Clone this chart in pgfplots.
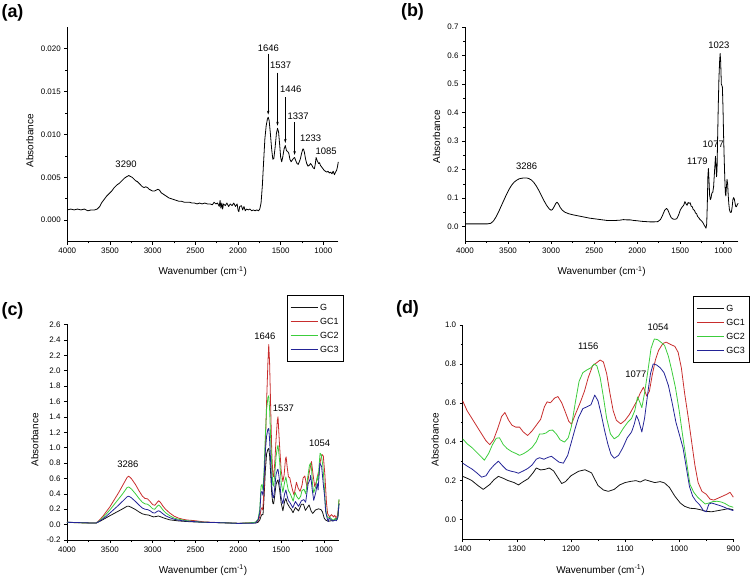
\documentclass[border=0pt]{standalone}
\usepackage{fontspec}
\setmainfont{Liberation Sans}
\usepackage{pgfplots}
\pgfplotsset{compat=1.18}
\usetikzlibrary{arrows.meta}
\definecolor{cG}{RGB}{20,20,20}
\definecolor{cGCa}{RGB}{200,45,45}
\definecolor{cGCb}{RGB}{60,205,60}
\definecolor{cGCc}{RGB}{35,35,150}
\tikzset{ann/.style={font=\fontsize{9.5}{11}\selectfont}}
\pgfplotsset{
 ftir/.style={
  scale only axis,
  anchor=south west,
  axis x line*=bottom, axis y line*=left,
  x dir=reverse,
  tick align=outside,
  tick style={black, line width=0.6pt},
  major tick length=3bp, minor tick length=1.8bp,
  minor tick num=1,
  axis line style={line width=0.7pt},
  tick label style={font=\fontsize{8}{9.5}\selectfont},
  label style={font=\fontsize{10}{12}\selectfont},
  /pgf/number format/assume math mode=true,
  /pgf/number format/1000 sep={},
  scaled y ticks=false,
  xlabel={Wavenumber (cm\textsuperscript{-1})},
  ylabel={Absorbance},
  clip=false,
  every axis plot/.append style={line width=0.8pt, line join=round},
 },
 leg/.style={
  legend style={draw=black, line width=0.6pt, inner xsep=3bp, inner ysep=5bp,
   font=\fontsize{9}{10}\selectfont, row sep=0pt,
   nodes={inner sep=2bp, text height=8bp, text depth=2bp}},
  legend cell align=left,
  legend image code/.code={\draw[##1] (0bp,0bp) -- (27bp,0bp);},
 }
}
\newcommand{\legset}{%
  \addlegendimage{draw=cG, line width=0.9pt}\addlegendentry{G}
  \addlegendimage{draw=cGCa, line width=0.9pt}\addlegendentry{GC1}
  \addlegendimage{draw=cGCb, line width=0.9pt}\addlegendentry{GC2}
  \addlegendimage{draw=cGCc, line width=0.9pt}\addlegendentry{GC3}}
\begin{document}
\begin{tikzpicture}
\useasboundingbox (0,0) rectangle (751bp,577bp);
% ---------------- (a)
\begin{axis}[ftir, at={(67.3bp,335.3bp)}, width=271bp, height=214.7bp,
  xmin=825, xmax=4000, ymin=-0.0025, ymax=0.0225,
  xtick={1000,1500,...,4000}, ytick={0,0.005,...,0.02},
  yticklabel style={/pgf/number format/.cd, fixed, fixed zerofill, precision=3},
  xlabel style={at={(axis description cs:0.5,-0.14)}, anchor=center},
  ylabel style={at={(axis description cs:-0.138,0.47)}, anchor=center}]
\addplot[black] coordinates {(4000,0.0012)(3960,0.0013)(3920,0.0012)(3880,0.0013)(3840,0.0012)(3800,0.0013)(3760,0.0011)(3720,0.0012)(3680,0.0012)(3650,0.0013)(3620,0.0016)(3600,0.0020)(3570,0.0024)(3540,0.0028)(3510,0.0031)(3480,0.0034)(3450,0.0038)(3420,0.0041)(3390,0.0043)(3360,0.0046)(3330,0.0049)(3300,0.0051)(3280,0.0052)(3260,0.0051)(3240,0.0050)(3220,0.0048)(3200,0.0046)(3180,0.0045)(3160,0.0043)(3140,0.0041)(3120,0.0039)(3100,0.0038)(3080,0.0039)(3060,0.0038)(3040,0.0036)(3020,0.0035)(3000,0.0034)(2980,0.0034)(2960,0.0035)(2940,0.0036)(2920,0.0035)(2900,0.0032)(2870,0.0030)(2840,0.0028)(2810,0.0026)(2780,0.0025)(2750,0.0024)(2720,0.0023)(2690,0.0022)(2660,0.0022)(2630,0.0021)(2600,0.0021)(2570,0.0021)(2540,0.0020)(2510,0.0020)(2480,0.0019)(2450,0.0020)(2420,0.0019)(2390,0.0020)(2360,0.0019)(2330,0.0019)(2300,0.0018)(2280,0.0021)(2260,0.0019)(2240,0.0020)(2220,0.0016)(2210,0.0023)(2200,0.0014)(2190,0.0020)(2180,0.0013)(2170,0.0019)(2150,0.0017)(2130,0.0020)(2110,0.0016)(2090,0.0019)(2070,0.0017)(2050,0.0020)(2030,0.0016)(2010,0.0019)(2000,0.0012)(1990,0.0010)(1980,0.0016)(1960,0.0017)(1945,0.0012)(1930,0.0016)(1915,0.0011)(1900,0.0013)(1880,0.0012)(1860,0.0013)(1840,0.0011)(1820,0.0012)(1800,0.0011)(1780,0.0012)(1760,0.0011)(1745,0.0013)(1730,0.0020)(1715,0.0040)(1700,0.0068)(1685,0.0095)(1670,0.0110)(1655,0.0118)(1646,0.0120)(1635,0.0116)(1620,0.0100)(1605,0.0082)(1592,0.0071)(1580,0.0072)(1565,0.0085)(1550,0.0101)(1537,0.0107)(1525,0.0103)(1512,0.0088)(1500,0.0073)(1488,0.0068)(1475,0.0074)(1460,0.0083)(1446,0.0087)(1432,0.0081)(1418,0.0080)(1405,0.0078)(1392,0.0071)(1378,0.0068)(1365,0.0070)(1350,0.0072)(1337,0.0073)(1322,0.0069)(1308,0.0066)(1295,0.0065)(1282,0.0068)(1268,0.0072)(1255,0.0078)(1240,0.0083)(1233,0.0083)(1222,0.0079)(1208,0.0071)(1195,0.0066)(1180,0.0063)(1165,0.0064)(1150,0.0066)(1135,0.0064)(1120,0.0061)(1105,0.0060)(1095,0.0065)(1085,0.0073)(1075,0.0070)(1065,0.0068)(1055,0.0066)(1045,0.0067)(1035,0.0064)(1020,0.0062)(1005,0.0060)(990,0.0058)(975,0.0057)(960,0.0056)(945,0.0057)(930,0.0055)(915,0.0056)(900,0.0054)(885,0.0057)(870,0.0053)(858,0.0056)(845,0.0058)(835,0.0062)(825,0.0068)};
\node[ann] at (axis cs:3312,0.0065) {3290};
\node[ann] at (axis cs:1644,0.0200) {1646};
\node[ann] at (axis cs:1500,0.0180) {1537};
\node[ann] at (axis cs:1382,0.0152) {1446};
\node[ann] at (axis cs:1295,0.0121) {1337};
\node[ann] at (axis cs:1148,0.0096) {1233};
\node[ann] at (axis cs:968,0.0080) {1085};
\draw[-{Stealth[length=4bp,width=2.5bp]}, line width=0.5pt] (axis cs:1646,0.0194) -- (axis cs:1646,0.0123);
\draw[-{Stealth[length=4bp,width=2.5bp]}, line width=0.5pt] (axis cs:1537,0.0172) -- (axis cs:1537,0.0110);
\draw[-{Stealth[length=4bp,width=2.5bp]}, line width=0.5pt] (axis cs:1446,0.0143) -- (axis cs:1446,0.0090);
\draw[-{Stealth[length=4bp,width=2.5bp]}, line width=0.5pt] (axis cs:1337,0.0114) -- (axis cs:1337,0.0076);
\end{axis}
% ---------------- (b)
\begin{axis}[ftir, at={(465bp,336bp)}, width=273.3bp, height=214bp,
  xmin=825, xmax=4000, ymin=-0.05, ymax=0.7,
  xtick={1000,1500,...,4000}, ytick={0,0.1,...,0.7},
  yticklabel style={/pgf/number format/.cd, fixed, fixed zerofill, precision=1},
  xlabel style={at={(axis description cs:0.5,-0.143)}, anchor=center},
  ylabel style={at={(axis description cs:-0.1036,0.487)}, anchor=center}]
\addplot[black] coordinates {(4000,0.010)(3900,0.010)(3800,0.010)(3740,0.010)(3700,0.012)(3670,0.020)(3640,0.034)(3610,0.052)(3580,0.072)(3550,0.092)(3520,0.112)(3490,0.130)(3460,0.145)(3430,0.156)(3400,0.163)(3370,0.168)(3340,0.170)(3310,0.171)(3286,0.171)(3260,0.169)(3230,0.164)(3200,0.155)(3170,0.142)(3140,0.126)(3110,0.108)(3080,0.090)(3050,0.074)(3020,0.062)(3000,0.058)(2985,0.060)(2965,0.070)(2945,0.082)(2930,0.086)(2915,0.080)(2895,0.068)(2870,0.058)(2840,0.051)(2800,0.046)(2750,0.042)(2700,0.039)(2650,0.036)(2600,0.033)(2550,0.030)(2500,0.028)(2450,0.026)(2400,0.024)(2350,0.022)(2300,0.022)(2250,0.022)(2200,0.023)(2160,0.025)(2120,0.024)(2080,0.024)(2040,0.022)(2000,0.021)(1950,0.019)(1900,0.018)(1850,0.017)(1800,0.017)(1760,0.018)(1730,0.025)(1705,0.040)(1680,0.058)(1660,0.064)(1645,0.060)(1625,0.045)(1605,0.032)(1585,0.027)(1560,0.026)(1540,0.028)(1520,0.040)(1500,0.058)(1480,0.068)(1460,0.075)(1445,0.088)(1432,0.080)(1420,0.075)(1408,0.085)(1396,0.082)(1385,0.084)(1372,0.072)(1360,0.070)(1348,0.060)(1335,0.058)(1322,0.048)(1310,0.046)(1298,0.036)(1285,0.032)(1272,0.026)(1258,0.022)(1245,0.018)(1232,0.012)(1220,0.005)(1210,0.000)(1200,-0.005)(1192,0.010)(1185,0.080)(1178,0.180)(1172,0.204)(1165,0.160)(1158,0.110)(1150,0.095)(1142,0.100)(1132,0.118)(1122,0.120)(1112,0.140)(1100,0.200)(1090,0.247)(1084,0.215)(1078,0.175)(1072,0.200)(1066,0.300)(1058,0.420)(1050,0.520)(1042,0.580)(1036,0.607)(1030,0.580)(1022,0.500)(1016,0.495)(1010,0.490)(1003,0.420)(996,0.320)(989,0.240)(982,0.170)(976,0.120)(970,0.108)(963,0.140)(956,0.166)(949,0.150)(942,0.110)(935,0.080)(928,0.060)(920,0.052)(912,0.050)(905,0.052)(896,0.070)(888,0.095)(880,0.102)(872,0.098)(864,0.085)(856,0.072)(848,0.070)(840,0.075)(832,0.080)(825,0.082)};
\node[ann] at (axis cs:3283,0.2135) {3286};
\node[ann] at (axis cs:1300,0.231) {1179};
\node[ann] at (axis cs:1116,0.289) {1077};
\node[ann] at (axis cs:1050,0.636) {1023};
\end{axis}
% ---------------- (c)
\begin{axis}[ftir, leg, at={(67bp,37bp)}, width=272bp, height=215.5bp,
  xmin=825, xmax=4000, ymin=-0.2, ymax=2.6,
  xtick={1000,1500,...,4000}, ytick={-0.2,0,0.2,...,2.6},
  yticklabel style={/pgf/number format/.cd, fixed, fixed zerofill, precision=1},
  xlabel style={at={(axis description cs:0.5,-0.139)}, anchor=center},
  ylabel style={at={(axis description cs:-0.118,0.464)}, anchor=center},
  legend style={at={(axis description cs:1.018,1.137)}, anchor=north east}]
\legset
\addplot[cG, forget plot] coordinates {(4000,0.030)(3900,0.028)(3800,0.025)(3700,0.020)(3660,0.020)(3620,0.040)(3580,0.065)(3540,0.090)(3500,0.115)(3450,0.145)(3400,0.175)(3350,0.205)(3300,0.238)(3280,0.240)(3250,0.225)(3200,0.195)(3160,0.165)(3120,0.140)(3080,0.128)(3050,0.125)(3020,0.112)(2990,0.100)(2960,0.105)(2935,0.112)(2910,0.103)(2880,0.090)(2840,0.075)(2800,0.062)(2750,0.055)(2700,0.048)(2600,0.040)(2500,0.034)(2400,0.030)(2300,0.027)(2200,0.025)(2100,0.022)(2000,0.018)(1900,0.020)(1800,0.020)(1770,0.030)(1750,0.060)(1735,0.110)(1725,0.130)(1712,0.130)(1700,0.350)(1685,0.700)(1670,0.920)(1655,0.980)(1645,0.990)(1635,0.900)(1622,0.650)(1610,0.400)(1598,0.280)(1588,0.270)(1575,0.380)(1560,0.520)(1545,0.570)(1537,0.580)(1520,0.470)(1500,0.280)(1480,0.180)(1460,0.300)(1445,0.340)(1430,0.280)(1415,0.250)(1400,0.222)(1383,0.200)(1362,0.155)(1334,0.222)(1297,0.178)(1264,0.265)(1240,0.265)(1217,0.185)(1174,0.256)(1150,0.175)(1131,0.145)(1100,0.190)(1063,0.205)(1035,0.195)(1018,0.165)(998,0.085)(980,0.058)(950,0.042)(920,0.050)(900,0.050)(880,0.060)(860,0.080)(845,0.070)(835,0.120)(825,0.280)};
\addplot[cGCa, forget plot] coordinates {(4000,0.030)(3900,0.025)(3800,0.022)(3700,0.020)(3660,0.020)(3620,0.060)(3580,0.110)(3540,0.170)(3500,0.230)(3450,0.320)(3400,0.410)(3350,0.510)(3300,0.610)(3280,0.630)(3250,0.600)(3200,0.520)(3160,0.440)(3120,0.370)(3090,0.340)(3060,0.335)(3030,0.300)(3000,0.260)(2975,0.250)(2950,0.285)(2930,0.310)(2910,0.290)(2880,0.240)(2850,0.200)(2800,0.150)(2750,0.110)(2700,0.085)(2650,0.070)(2600,0.060)(2500,0.050)(2400,0.035)(2300,0.030)(2200,0.025)(2100,0.020)(2000,0.015)(1900,0.020)(1800,0.030)(1770,0.050)(1750,0.100)(1735,0.200)(1725,0.220)(1715,0.190)(1700,0.450)(1685,1.000)(1670,1.600)(1655,2.100)(1645,2.340)(1635,2.100)(1622,1.500)(1610,0.950)(1598,0.650)(1588,0.620)(1575,0.800)(1560,1.100)(1545,1.350)(1537,1.400)(1520,1.050)(1500,0.700)(1480,0.560)(1465,0.650)(1450,0.850)(1442,0.880)(1430,0.750)(1415,0.620)(1400,0.610)(1383,0.520)(1365,0.440)(1350,0.385)(1335,0.470)(1322,0.550)(1302,0.475)(1280,0.432)(1256,0.515)(1244,0.605)(1224,0.632)(1199,0.490)(1175,0.660)(1146,0.820)(1128,0.650)(1108,0.492)(1085,0.575)(1066,0.680)(1060,0.635)(1044,0.820)(1024,0.912)(1008,0.890)(990,0.650)(971,0.280)(958,0.145)(936,0.100)(912,0.130)(900,0.115)(890,0.100)(875,0.120)(860,0.090)(845,0.110)(835,0.180)(825,0.320)};
\addplot[cGCb, forget plot] coordinates {(4000,0.030)(3900,0.025)(3800,0.022)(3700,0.020)(3660,0.020)(3620,0.050)(3580,0.090)(3540,0.140)(3500,0.190)(3450,0.260)(3400,0.330)(3350,0.400)(3300,0.480)(3280,0.490)(3250,0.465)(3200,0.400)(3160,0.340)(3120,0.290)(3090,0.270)(3060,0.265)(3030,0.240)(3000,0.205)(2975,0.200)(2950,0.235)(2930,0.255)(2910,0.235)(2880,0.190)(2850,0.155)(2800,0.115)(2750,0.085)(2700,0.070)(2650,0.060)(2600,0.050)(2500,0.040)(2400,0.030)(2300,0.028)(2200,0.025)(2100,0.020)(2000,0.015)(1900,0.020)(1800,0.030)(1770,0.070)(1750,0.200)(1735,0.500)(1725,0.520)(1712,0.450)(1700,0.700)(1685,1.150)(1670,1.500)(1655,1.650)(1645,1.675)(1635,1.500)(1622,1.100)(1610,0.750)(1598,0.520)(1588,0.500)(1575,0.650)(1560,0.880)(1545,1.000)(1537,1.030)(1520,0.850)(1500,0.550)(1480,0.420)(1460,0.550)(1445,0.620)(1430,0.520)(1415,0.440)(1400,0.415)(1383,0.370)(1360,0.305)(1338,0.418)(1318,0.365)(1295,0.330)(1272,0.370)(1258,0.440)(1234,0.460)(1212,0.398)(1192,0.600)(1170,0.770)(1157,0.800)(1146,0.730)(1134,0.520)(1120,0.415)(1095,0.500)(1077,0.630)(1069,0.575)(1058,0.760)(1046,0.928)(1033,0.910)(1014,0.770)(1000,0.560)(986,0.290)(973,0.140)(958,0.095)(945,0.085)(930,0.094)(908,0.070)(900,0.063)(885,0.060)(870,0.080)(855,0.060)(840,0.100)(825,0.330)};
\addplot[cGCc, forget plot] coordinates {(4000,0.030)(3900,0.027)(3800,0.024)(3700,0.020)(3660,0.020)(3620,0.045)(3580,0.075)(3540,0.110)(3500,0.150)(3450,0.200)(3400,0.250)(3350,0.305)(3300,0.360)(3280,0.370)(3250,0.350)(3200,0.300)(3160,0.255)(3120,0.215)(3090,0.200)(3060,0.195)(3030,0.180)(3000,0.155)(2975,0.150)(2950,0.170)(2930,0.180)(2910,0.168)(2880,0.140)(2850,0.115)(2800,0.090)(2750,0.070)(2700,0.058)(2650,0.050)(2600,0.045)(2500,0.038)(2400,0.030)(2300,0.028)(2200,0.025)(2100,0.020)(2000,0.015)(1900,0.018)(1800,0.020)(1770,0.060)(1750,0.150)(1735,0.420)(1725,0.430)(1712,0.380)(1700,0.600)(1685,0.950)(1670,1.150)(1655,1.240)(1645,1.250)(1635,1.100)(1622,0.800)(1610,0.500)(1598,0.360)(1588,0.350)(1575,0.480)(1560,0.650)(1545,0.710)(1537,0.720)(1520,0.580)(1500,0.350)(1480,0.270)(1460,0.400)(1445,0.450)(1430,0.370)(1415,0.310)(1400,0.290)(1374,0.240)(1365,0.218)(1334,0.300)(1297,0.238)(1264,0.310)(1236,0.325)(1214,0.290)(1186,0.525)(1163,0.590)(1156,0.640)(1138,0.460)(1120,0.315)(1096,0.420)(1079,0.535)(1069,0.450)(1048,0.800)(1028,0.755)(1006,0.500)(993,0.370)(981,0.170)(962,0.075)(950,0.040)(940,0.085)(918,0.065)(900,0.046)(885,0.050)(870,0.060)(855,0.050)(840,0.090)(825,0.270)};
\node[ann] at (axis cs:3290,0.78) {3286};
\node[ann] at (axis cs:1690,2.45) {1646};
\node[ann] at (axis cs:1475,1.51) {1537};
\node[ann] at (axis cs:1050,1.06) {1054};
\end{axis}
% ---------------- (d)
\begin{axis}[ftir, leg, at={(462.7bp,38bp)}, width=270.6bp, height=214bp,
  xmin=900, xmax=1400, ymin=-0.1, ymax=1.0,
  xtick={900,1000,...,1400}, ytick={0,0.2,...,1.0},
  yticklabel style={/pgf/number format/.cd, fixed, fixed zerofill, precision=1},
  xlabel style={at={(axis description cs:0.509,-0.145)}, anchor=center},
  ylabel style={at={(axis description cs:-0.102,0.463)}, anchor=center},
  legend style={at={(axis description cs:1.062,1.136)}, anchor=north east}]
\legset
\addplot[cG, forget plot] coordinates {(1400,0.222)(1390,0.210)(1383,0.200)(1372,0.175)(1362,0.155)(1350,0.180)(1342,0.205)(1334,0.222)(1325,0.212)(1316,0.200)(1305,0.190)(1297,0.178)(1288,0.195)(1279,0.210)(1270,0.240)(1264,0.265)(1256,0.255)(1248,0.258)(1240,0.265)(1232,0.250)(1224,0.215)(1217,0.185)(1210,0.195)(1200,0.225)(1186,0.248)(1174,0.256)(1162,0.240)(1150,0.175)(1140,0.152)(1131,0.145)(1120,0.155)(1110,0.178)(1100,0.190)(1090,0.196)(1080,0.200)(1072,0.193)(1063,0.205)(1055,0.198)(1045,0.190)(1035,0.195)(1027,0.188)(1018,0.165)(1008,0.120)(998,0.085)(990,0.068)(980,0.058)(970,0.056)(960,0.050)(950,0.042)(940,0.040)(930,0.045)(920,0.050)(909,0.056)(900,0.050)};
\addplot[cGCa, forget plot] coordinates {(1400,0.610)(1392,0.560)(1383,0.520)(1374,0.480)(1365,0.440)(1357,0.405)(1350,0.385)(1343,0.410)(1335,0.470)(1328,0.530)(1322,0.550)(1315,0.510)(1309,0.485)(1302,0.475)(1295,0.475)(1288,0.450)(1280,0.432)(1272,0.455)(1264,0.485)(1256,0.515)(1249,0.580)(1244,0.605)(1238,0.600)(1230,0.625)(1224,0.632)(1217,0.600)(1210,0.550)(1204,0.505)(1199,0.490)(1192,0.540)(1183,0.600)(1175,0.660)(1168,0.730)(1160,0.790)(1153,0.805)(1146,0.820)(1140,0.810)(1134,0.750)(1128,0.650)(1122,0.560)(1116,0.510)(1108,0.492)(1100,0.510)(1092,0.540)(1085,0.575)(1078,0.610)(1072,0.650)(1066,0.680)(1060,0.635)(1055,0.660)(1050,0.740)(1044,0.820)(1038,0.870)(1030,0.905)(1024,0.912)(1016,0.900)(1008,0.890)(1002,0.860)(996,0.780)(990,0.650)(983,0.520)(977,0.400)(971,0.280)(965,0.190)(958,0.145)(950,0.130)(943,0.105)(936,0.100)(928,0.110)(920,0.120)(912,0.130)(906,0.140)(900,0.115)};
\addplot[cGCb, forget plot] coordinates {(1400,0.415)(1392,0.390)(1383,0.370)(1374,0.345)(1365,0.320)(1360,0.305)(1352,0.340)(1345,0.385)(1338,0.418)(1332,0.420)(1325,0.385)(1318,0.365)(1310,0.350)(1302,0.340)(1295,0.330)(1288,0.338)(1280,0.352)(1272,0.370)(1264,0.400)(1258,0.440)(1252,0.440)(1246,0.445)(1240,0.458)(1234,0.460)(1227,0.440)(1220,0.410)(1212,0.398)(1205,0.420)(1199,0.480)(1192,0.600)(1185,0.710)(1178,0.755)(1170,0.770)(1163,0.780)(1157,0.800)(1152,0.790)(1146,0.730)(1140,0.630)(1134,0.520)(1127,0.440)(1120,0.415)(1112,0.430)(1103,0.470)(1095,0.500)(1088,0.520)(1082,0.560)(1077,0.630)(1073,0.605)(1069,0.575)(1064,0.650)(1058,0.760)(1052,0.880)(1046,0.928)(1040,0.925)(1033,0.910)(1027,0.895)(1020,0.840)(1014,0.770)(1007,0.680)(1000,0.560)(993,0.420)(986,0.290)(980,0.180)(973,0.140)(966,0.115)(958,0.095)(952,0.080)(945,0.085)(938,0.092)(930,0.094)(922,0.090)(915,0.082)(908,0.070)(900,0.063)};
\addplot[cGCc, forget plot] coordinates {(1400,0.290)(1392,0.275)(1383,0.260)(1374,0.240)(1365,0.218)(1357,0.225)(1350,0.255)(1342,0.280)(1334,0.300)(1326,0.275)(1319,0.256)(1310,0.248)(1303,0.244)(1297,0.238)(1288,0.250)(1280,0.262)(1272,0.280)(1264,0.310)(1258,0.318)(1250,0.310)(1242,0.320)(1236,0.325)(1229,0.310)(1222,0.295)(1214,0.290)(1206,0.330)(1199,0.400)(1192,0.470)(1186,0.525)(1178,0.570)(1170,0.580)(1163,0.590)(1156,0.640)(1150,0.610)(1144,0.540)(1138,0.460)(1132,0.390)(1126,0.335)(1120,0.315)(1112,0.330)(1104,0.370)(1096,0.420)(1088,0.450)(1083,0.490)(1079,0.535)(1075,0.510)(1069,0.450)(1064,0.520)(1058,0.650)(1053,0.750)(1048,0.800)(1042,0.795)(1035,0.780)(1028,0.755)(1020,0.690)(1013,0.600)(1006,0.500)(999,0.430)(993,0.370)(987,0.270)(981,0.170)(975,0.120)(969,0.095)(962,0.075)(955,0.045)(950,0.040)(945,0.080)(940,0.085)(932,0.078)(925,0.072)(918,0.065)(910,0.055)(900,0.046)};
\node[ann] at (axis cs:1168,0.889) {1156};
\node[ann] at (axis cs:1080,0.747) {1077};
\node[ann] at (axis cs:1039,0.986) {1054};
\end{axis}
% panel labels
\node[font=\bfseries\fontsize{18}{20}\selectfont] at (12.5bp,563.7bp) {(a)};
\node[font=\bfseries\fontsize{18}{20}\selectfont] at (412.5bp,565.3bp) {(b)};
\node[font=\bfseries\fontsize{18}{20}\selectfont] at (12.5bp,266.2bp) {(c)};
\node[font=\bfseries\fontsize{18}{20}\selectfont] at (407.5bp,268bp) {(d)};
\end{tikzpicture}
\end{document}
